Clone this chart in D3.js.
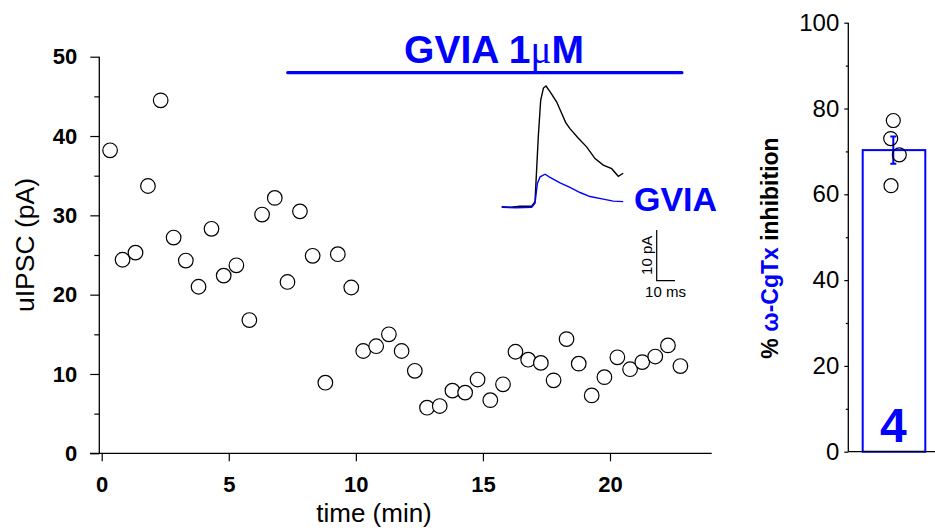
<!DOCTYPE html>
<html>
<head>
<meta charset="utf-8">
<script src="https://cdn.jsdelivr.net/npm/d3@7"></script>
<style>
body { margin: 0; background: #fff; }
svg { display: block; font-family: "Liberation Sans", Arial, sans-serif; }
</style>
</head>
<body>
<svg width="935" height="530"></svg>
<script>
// time course (min) and uIPSC amplitude (pA)
const times = [0.33, 0.82, 1.33, 1.82, 2.32, 2.83, 3.31, 3.81, 4.32, 4.80, 5.30, 5.81, 6.31, 6.81, 7.31, 7.80, 8.30, 8.80, 9.29, 9.82,
	10.29, 10.80, 11.30, 11.80, 12.32, 12.80, 13.30, 13.80, 14.30, 14.79, 15.29, 15.79, 16.28, 16.78, 17.28, 17.78, 18.29, 18.77,
	19.28, 19.78, 20.29, 20.79, 21.27, 21.78, 22.28, 22.77];
const amps = [38.2, 24.4, 25.3, 33.7, 44.5, 27.2, 24.3, 21.0, 28.3, 22.4, 23.7, 16.8, 30.1, 32.2, 21.6, 30.5, 24.9, 8.9, 25.1, 20.9,
	12.9, 13.5, 15.0, 12.9, 10.4, 5.75, 5.96, 7.9, 7.65, 9.3, 6.7, 8.7, 12.8, 11.8, 11.4, 9.2, 14.4, 11.3,
	7.3, 9.6, 12.1, 10.6, 11.5, 12.2, 13.6, 11.0];
const xTicks = [0, 5, 10, 15, 20];
const yMajor = [0, 10, 20, 30, 40, 50];
const yMinor = [5, 15, 25, 35, 45];
const drugStart = 7.32, drugEnd = 22.83;

// inset traces: [ms, pA]
const ctrlTrace = [[0, 0], [5, -0.1], [10, 0.1], [16.4, 0.1], [18.2, 1.0], [20.0, 13.8], [21.3, 21.0], [22.8, 23.4], [24.2, 23.8],
	[26.4, 22.7], [30.0, 20.7], [32.8, 18.4], [35, 16.6], [37.3, 15.4], [41.9, 13.5], [46.4, 11.8], [51.0, 9.5], [55.5, 8.2],
	[60.1, 7.5], [63.7, 6.0], [66.4, 6.6]];
const gviaTrace = [[0, -0.1], [8, -0.2], [16.4, -0.1], [18.2, 0.7], [19.5, 4.6], [21.0, 5.9], [23.7, 6.4], [26.4, 5.8], [31.9, 4.7],
	[37.3, 3.8], [42.8, 2.8], [48.3, 2.0], [55.5, 1.5], [61.0, 1.1], [66.4, 1.0]];

// summary bar
const inhibPoints = [77.2, 73.0, 69.2, 62.0];
const inhibMean = 70.3, inhibSem = 3.2;
const nCells = "4";
const rMajor = [0, 20, 40, 60, 80, 100];
const rMinor = [10, 30, 50, 70, 90];

const blue = "#0000ff";
const svg = d3.select("svg");

// ---------- left time course ----------
const x = d3.scaleLinear().domain([0, 20]).range([101.7, 610]);
const y = d3.scaleLinear().domain([0, 50]).range([453.3, 56.7]);
const axisX = 99.3;

const gL = svg.append("g");
gL.append("line").attr("x1", 90).attr("x2", 711.7).attr("y1", y(0)).attr("y2", y(0))
	.attr("stroke", "#000").attr("stroke-width", 1.3);
gL.append("line").attr("x1", axisX).attr("x2", axisX).attr("y1", y(0)).attr("y2", y(50))
	.attr("stroke", "#000").attr("stroke-width", 1.3);

const xa = gL.append("g").attr("transform", `translate(0,${y(0)})`)
	.call(d3.axisBottom(x).tickValues(xTicks).tickSize(8).tickPadding(15).tickFormat(d3.format("d")));
const ya = gL.append("g").attr("transform", `translate(${axisX},0)`)
	.call(d3.axisLeft(y).tickValues(yMajor).tickSize(9).tickPadding(13).tickFormat(d3.format("d")));
const ym = gL.append("g").attr("transform", `translate(${axisX},0)`)
	.call(d3.axisLeft(y).tickValues(yMinor).tickSize(5).tickFormat(""));
[xa, ya, ym].forEach(a => {
	a.select(".domain").remove();
	a.selectAll("line").attr("stroke", "#000").attr("stroke-width", 1.2);
	a.selectAll("text").attr("font-size", 22).attr("font-weight", "bold").attr("fill", "#000")
		.attr("font-family", "Liberation Sans, Arial, sans-serif");
});

gL.append("text").attr("x", 374).attr("y", 522).attr("text-anchor", "middle")
	.attr("font-size", 26).text("time (min)");
gL.append("text").attr("transform", "translate(34,245) rotate(-90)").attr("text-anchor", "middle")
	.attr("font-size", 26.5).text("uIPSC (pA)");

gL.selectAll("circle.pt").data(times.map((t, i) => [t, amps[i]])).enter()
	.append("circle").attr("class", "pt")
	.attr("cx", d => x(d[0])).attr("cy", d => y(d[1])).attr("r", 7.3)
	.attr("fill", "#fff").attr("stroke", "#000").attr("stroke-width", 1.2);

// drug bar
gL.append("line").attr("x1", x(drugStart)).attr("x2", x(drugEnd)).attr("y1", 72.7).attr("y2", 72.7)
	.attr("stroke", blue).attr("stroke-width", 3.2).attr("stroke-linecap", "round");
const gt = gL.append("text").attr("x", 494).attr("y", 63).attr("text-anchor", "middle")
	.attr("font-size", 39).attr("font-weight", "bold").attr("fill", blue);
gt.append("tspan").text("GVIA 1");
gt.append("tspan").attr("font-family", "Liberation Serif, serif").attr("font-weight", "normal").text("\u03bc");
gt.append("tspan").text("M");

// inset
const ix = d3.scaleLinear().domain([0, 10]).range([501.7, 520.0]);
const iy = d3.scaleLinear().domain([0, 10]).range([206.7, 156.0]);
const line = d3.line().x(d => ix(d[0])).y(d => iy(d[1]));
gL.append("path").attr("d", line(ctrlTrace)).attr("fill", "none").attr("stroke", "#000").attr("stroke-width", 1.4);
gL.append("path").attr("d", line(gviaTrace)).attr("fill", "none").attr("stroke", blue).attr("stroke-width", 1.4);
gL.append("text").attr("x", 634).attr("y", 210.7).attr("font-size", 34).attr("font-weight", "bold")
	.attr("fill", blue).text("GVIA");

// scale bar: 10 pA / 10 ms
const sbT = 84.7, sbA = -14.6;
gL.append("path")
	.attr("d", `M${ix(sbT)},${iy(sbA + 10)}V${iy(sbA)}H${ix(sbT + 10)}`)
	.attr("fill", "none").attr("stroke", "#000").attr("stroke-width", 1.2);
gL.append("text").attr("transform", `translate(652,${(iy(sbA) + iy(sbA + 10)) / 2}) rotate(-90)`)
	.attr("text-anchor", "middle").attr("font-size", 15).text("10 pA");
gL.append("text").attr("x", 665.5).attr("y", 297).attr("text-anchor", "middle")
	.attr("font-size", 15).text("10 ms");

// ---------- right summary ----------
const ry = d3.scaleLinear().domain([0, 100]).range([451.7, 22.7]);
const rAxisX = 848.3;
const gR = svg.append("g");

gR.append("rect").attr("x", 862.7).attr("width", 62.6)
	.attr("y", ry(inhibMean)).attr("height", ry(0) - ry(inhibMean))
	.attr("fill", "#fff").attr("stroke", blue).attr("stroke-width", 2);

const ra = gR.append("g").attr("transform", `translate(${rAxisX},0)`)
	.call(d3.axisLeft(ry).tickValues(rMajor).tickSize(4).tickPadding(5).tickFormat(d3.format("d")));
const rm = gR.append("g").attr("transform", `translate(${rAxisX},0)`)
	.call(d3.axisLeft(ry).tickValues(rMinor).tickSize(2.5).tickFormat(""));
[ra, rm].forEach(a => {
	a.select(".domain").remove();
	a.selectAll("line").attr("stroke", "#000").attr("stroke-width", 1.2);
	a.selectAll("text").attr("font-size", 24).attr("fill", "#000")
		.attr("font-family", "Liberation Sans, Arial, sans-serif");
});
gR.append("line").attr("x1", rAxisX).attr("x2", rAxisX).attr("y1", ry(0)).attr("y2", ry(100))
	.attr("stroke", "#000").attr("stroke-width", 1.3);
gR.append("line").attr("x1", rAxisX).attr("x2", 935).attr("y1", ry(0)).attr("y2", ry(0))
	.attr("stroke", "#000").attr("stroke-width", 1.3);

// error bar
const ex = 893.3;
gR.append("path")
	.attr("d", `M${ex - 3},${ry(inhibMean + inhibSem)}H${ex + 3}M${ex},${ry(inhibMean + inhibSem)}V${ry(inhibMean - inhibSem)}M${ex - 3},${ry(inhibMean - inhibSem)}H${ex + 3}`)
	.attr("fill", "none").attr("stroke", blue).attr("stroke-width", 2);

const jitter = [0, -2.6, 6, -2.3];
gR.selectAll("circle.ip").data(inhibPoints).enter().append("circle").attr("class", "ip")
	.attr("cx", (d, i) => ex + jitter[i]).attr("cy", d => ry(d)).attr("r", 7)
	.attr("fill", "none").attr("stroke", "#000").attr("stroke-width", 1.2);

gR.append("text").attr("x", ex).attr("y", 441.5).attr("text-anchor", "middle")
	.attr("font-size", 48).attr("font-weight", "bold").attr("fill", blue).text(nCells);

const lab = gR.append("text").attr("transform", "translate(778,248) rotate(-90)").attr("text-anchor", "middle")
	.attr("font-size", 23).attr("font-weight", "bold");
lab.append("tspan").text("% ");
lab.append("tspan").attr("fill", blue).text("\u03c9-CgTx");
lab.append("tspan").text(" inhibition");
</script>
</body>
</html>
